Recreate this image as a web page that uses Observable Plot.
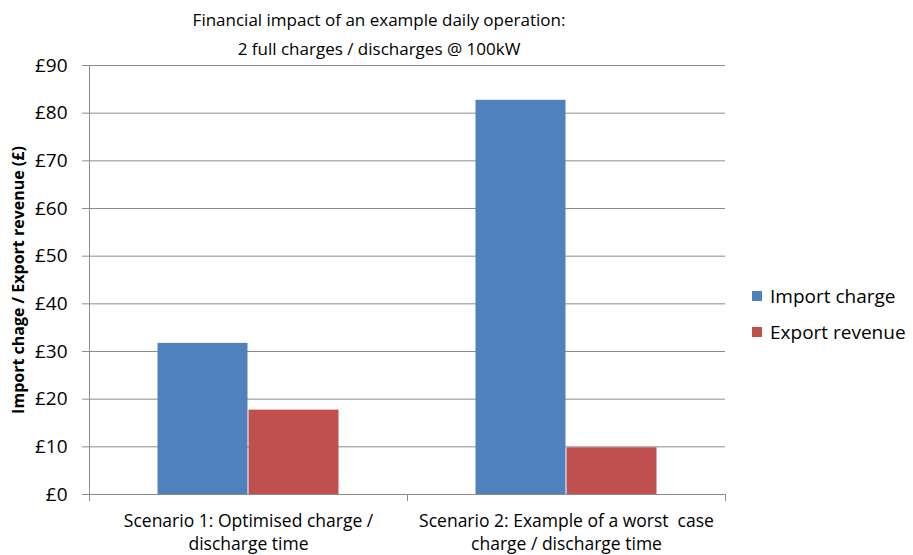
<!DOCTYPE html>
<html>
<head>
<meta charset="utf-8">
<script src="https://cdn.jsdelivr.net/npm/d3@7"></script>
<script src="https://cdn.jsdelivr.net/npm/@observablehq/plot@0.6"></script>
<style>
  body { margin: 0; background: #fff; font-family: "Open Sans", sans-serif; color: #000; }
  #wrap { position: relative; width: 913px; height: 555px; overflow: hidden; }
  #title { position: absolute; left: 179px; width: 400px; top: 5px; text-align: center; font-size: 17px; line-height: 29px; white-space: nowrap; }
  #ylabel { position: absolute; left: 18px; top: 279.5px; transform: translate(-50%, -50%) rotate(-90deg); white-space: nowrap; font-weight: bold; font-size: 16px; }
  #legend { position: absolute; left: 752px; top: 278px; font-size: 19px; }
  .item { display: flex; align-items: center; height: 36px; white-space: nowrap; }
  .sw { width: 10px; height: 10px; margin-right: 8px; flex: none; }
  svg text { white-space: pre; }
</style>
</head>
<body>
<div id="wrap">
  <div id="chart"></div>
  <div id="title">Financial impact of an example daily operation:<br>2 full charges / discharges @ 100kW</div>
  <div id="ylabel">Import chage / Export revenue (£)</div>
  <div id="legend"></div>
</div>
<script>
const scenarios = [
  "Scenario 1: Optimised charge /\ndischarge time",
  "Scenario 2: Example of a worst  case\ncharge / discharge time"
];
const series = ["Import charge", "Export revenue"];
const importCharge = [31.7, 82.7];
const exportRevenue = [17.7, 9.8];
const yTicks = [0, 10, 20, 30, 40, 50, 60, 70, 80, 90];
const colors = ["#4F81BD", "#C0504D"];

const data = scenarios.flatMap((s, i) => [
  {scenario: s, series: series[0], value: importCharge[i]},
  {scenario: s, series: series[1], value: exportRevenue[i]}
]);

const gridColor = "#8c8c8c";

const chart = Plot.plot({
  width: 913,
  height: 555,
  marginLeft: 89,
  marginRight: 188,
  marginTop: 65,
  marginBottom: 61,
  style: {fontFamily: "'Open Sans', sans-serif", color: "#000", background: "transparent", overflow: "visible"},
  fx: {domain: scenarios, padding: 0, label: null},
  x: {domain: series, paddingInner: 0, paddingOuter: 0.74, axis: null},
  y: {domain: [0, 90], label: null},
  color: {domain: series, range: colors},
  marks: [
    Plot.gridY(yTicks, {stroke: gridColor, strokeOpacity: 1, strokeWidth: 1}),
    Plot.frame({anchor: "left", facetAnchor: "left", stroke: gridColor}),
    Plot.barY(data, {fx: "scenario", x: "series", y: "value", fill: "series", insetLeft: 0.5, insetRight: 0.5}),
    Plot.axisY(yTicks, {tickFormat: d => `£${d}`, tickSize: 7, tickPadding: 15, stroke: gridColor, fill: "#000", fontSize: 19, label: null}),
    Plot.axisFx({anchor: "bottom", tickSize: 0, tickPadding: 16, fontSize: 17.5, lineHeight: 1.33, fill: "#000", label: null})
  ]
});

// Category boundary tick marks below the baseline, from the fx scale
const fx = chart.scale("fx");
const ys = chart.scale("y");
const y0 = ys.apply(0);
const step = (fx.range[1] - fx.range[0]) / scenarios.length;
d3.select(chart).append("g")
  .attr("stroke", gridColor)
  .selectAll("line")
  .data(d3.range(scenarios.length + 1))
  .join("line")
  .attr("x1", i => fx.range[0] + i * step + 0.5)
  .attr("x2", i => fx.range[0] + i * step + 0.5)
  .attr("y1", y0)
  .attr("y2", y0 + 7);

document.getElementById("chart").append(chart);

const legend = d3.select("#legend");
series.forEach((s, i) => {
  const it = legend.append("div").attr("class", "item");
  it.append("div").attr("class", "sw").style("background", colors[i]);
  it.append("span").text(s);
});
</script>
</body>
</html>
